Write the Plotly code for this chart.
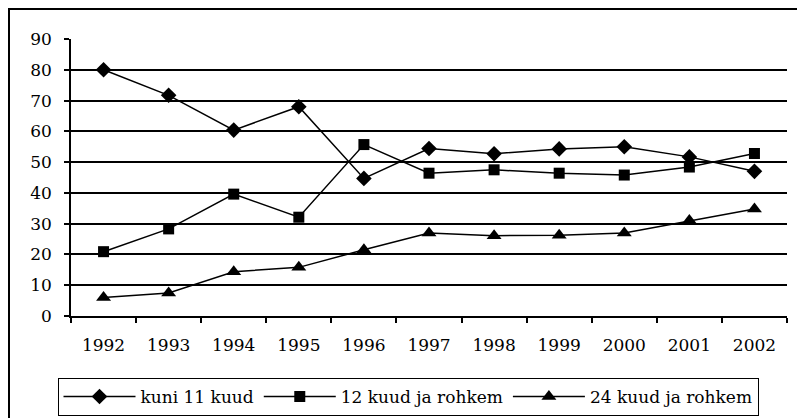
import plotly.graph_objects as go

years = ["1992", "1993", "1994", "1995", "1996", "1997", "1998", "1999", "2000", "2001", "2002"]
kuni_11 = [80.0, 71.7, 60.4, 68.0, 44.7, 54.4, 52.7, 54.3, 55.0, 51.7, 47.0]
kuud_12 = [20.9, 28.3, 39.6, 32.1, 55.7, 46.4, 47.5, 46.4, 45.8, 48.4, 52.8]
kuud_24 = [6.0, 7.5, 14.4, 15.8, 21.5, 27.0, 26.1, 26.2, 27.0, 31.0, 34.8]
names = ["kuni 11 kuud", "12 kuud ja rohkem", "24 kuud ja rohkem"]
symbols = ["diamond", "square", "triangle-up"]
sizes = [12, 11, 13]

OFF = 8  # the page body margin shifts the figure by 8 px
W, H = 805 - OFF, 418 - OFF
L, R, T, B = 71 - OFF, 18, 39 - OFF, 102
pw, ph = W - L - R, H - T - B


def px_x(px):
    return (px - 71) / pw


def px_y(py):
    return (316 - py) / ph


fig = go.Figure()
for vals, name, sym, sz in zip([kuni_11, kuud_12, kuud_24], names, symbols, sizes):
    fig.add_trace(go.Scatter(
        x=years, y=vals, name=name, mode="lines+markers",
        line=dict(color="black", width=1.5),
        marker=dict(symbol=sym, size=sz, color="black"),
    ))

font = "DejaVu Serif"
fs = 17
fig.update_layout(
    width=W, height=H,
    margin=dict(l=L, r=R, t=T, b=B, autoexpand=False),
    paper_bgcolor="white", plot_bgcolor="white",
    font=dict(family=font, size=fs, color="black"),
    showlegend=True,
    legend=dict(
        orientation="h", x=px_x(408), xanchor="center",
        y=px_y(378), yanchor="top",
        bordercolor="black", borderwidth=1,
        font=dict(family=font, size=17, color="black"),
        itemwidth=72, tracegroupgap=0,
    ),
    xaxis=dict(
        type="category", range=[-0.5, 10.5], automargin=False,
        showgrid=False, showline=True, linecolor="black", linewidth=1.5,
        ticks="outside", tickson="boundaries", ticklen=5, tickcolor="black",
        tickwidth=1.5, zeroline=False,
        tickfont=dict(family=font, size=fs),
        ticklabelstandoff=13,
    ),
    yaxis=dict(
        range=[0, 90], dtick=10, tick0=0, automargin=False,
        showgrid=True, gridcolor="black", gridwidth=1.5,
        showline=True, linecolor="black", linewidth=1.5,
        ticks="outside", ticklen=5, tickcolor="black", tickwidth=1.5,
        zeroline=False,
        tickfont=dict(family=font, size=fs),
        ticklabelstandoff=9,
    ),
    shapes=[dict(
        type="rect", xref="paper", yref="paper",
        x0=px_x(9), x1=px_x(815),
        y0=px_y(425), y1=px_y(9),
        line=dict(color="black", width=2), fillcolor="rgba(0,0,0,0)",
        layer="below",
    )],
)

fig.write_html("out.html")
